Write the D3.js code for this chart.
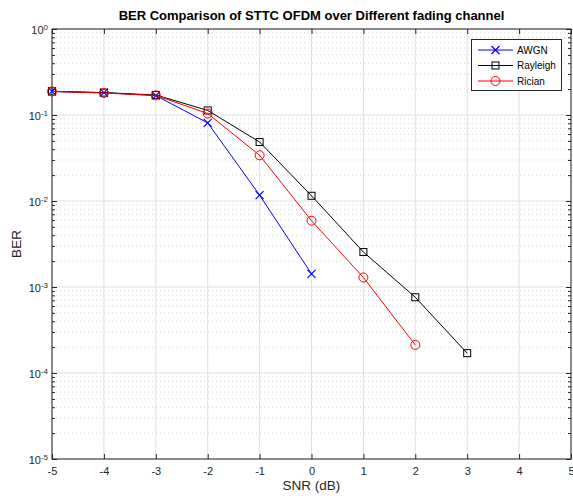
<!DOCTYPE html>
<html>
<head>
<meta charset="utf-8">
<script src="https://cdn.jsdelivr.net/npm/d3@7"></script>
<style>
  body { margin: 0; background: #fff; }
  svg { display: block; font-family: "Liberation Sans", Arial, sans-serif; }
  .tick text { fill: #262626; font-size: 11px; }
</style>
</head>
<body>
<svg id="chart" width="573" height="496"></svg>
<script>
// data
var snr = [-5, -4, -3, -2, -1, 0, 1, 2, 3];
var awgn = [0.188, 0.182, 0.168, 0.081, 0.0117, 0.00142];
var rayleigh = [0.188, 0.182, 0.171, 0.113, 0.0485, 0.0115, 0.00255, 0.00076, 0.00017];
var rician = [0.188, 0.180, 0.169, 0.104, 0.034, 0.0059, 0.00129, 0.000212];
var xTicks = [-5, -4, -3, -2, -1, 0, 1, 2, 3, 4, 5];
var yTicks = [1e-5, 1e-4, 1e-3, 1e-2, 1e-1, 1];

var series = [
  {name: 'AWGN', values: awgn, color: '#0000ff', marker: 'x'},
  {name: 'Rayleigh', values: rayleigh, color: '#000000', marker: 'square'},
  {name: 'Rician', values: rician, color: '#ff0000', marker: 'circle'}
];

var svg = d3.select('#chart');
var pLeft = 52, pRight = 571, pTop = 29, pBottom = 459;

var x = d3.scaleLinear().domain([-5, 5]).range([pLeft, pRight]);
var y = d3.scaleLog().domain([1e-5, 1]).range([pBottom, pTop]);

var axisColor = '#262626';

// minor values between decades
var minor = [];
yTicks.slice(0, -1).forEach(function(d) {
  for (var k = 2; k < 10; k++) minor.push(d * k);
});

var grid = svg.append('g');

grid.selectAll('line.minor')
  .data(minor)
  .enter().append('line')
  .attr('x1', pLeft).attr('x2', pRight)
  .attr('y1', function(d) { return y(d); })
  .attr('y2', function(d) { return y(d); })
  .attr('stroke', '#d4d4d4')
  .attr('stroke-width', 1)
  .attr('stroke-dasharray', '1,3');

grid.selectAll('line.xgrid')
  .data(xTicks)
  .enter().append('line')
  .attr('x1', function(d) { return x(d); })
  .attr('x2', function(d) { return x(d); })
  .attr('y1', pTop).attr('y2', pBottom)
  .attr('stroke', '#dfdfdf');

grid.selectAll('line.ygrid')
  .data(yTicks)
  .enter().append('line')
  .attr('x1', pLeft).attr('x2', pRight)
  .attr('y1', function(d) { return y(d); })
  .attr('y2', function(d) { return y(d); })
  .attr('stroke', '#dfdfdf');

// axes
var xAxis = d3.axisBottom(x).tickValues(xTicks).tickSize(-5).tickPadding(8)
  .tickFormat(function(d) { return String(d); });
var xTop = d3.axisTop(x).tickValues(xTicks).tickSize(-5).tickFormat('');

svg.append('g').attr('transform', 'translate(0,' + pBottom + ')').call(xAxis);
svg.append('g').attr('transform', 'translate(0,' + pTop + ')').call(xTop);

var yAxis = d3.axisLeft(y).tickValues(yTicks).tickSize(-5).tickFormat('');
var yRight = d3.axisRight(y).tickValues(yTicks).tickSize(-5).tickFormat('');
var gy = svg.append('g').attr('transform', 'translate(' + pLeft + ',0)').call(yAxis);
svg.append('g').attr('transform', 'translate(' + pRight + ',0)').call(yRight);

var yMinorL = d3.axisLeft(y).tickValues(minor).tickSize(-3).tickFormat('');
var yMinorR = d3.axisRight(y).tickValues(minor).tickSize(-3).tickFormat('');
svg.append('g').attr('transform', 'translate(' + pLeft + ',0)').call(yMinorL);
svg.append('g').attr('transform', 'translate(' + pRight + ',0)').call(yMinorR);

svg.selectAll('.domain').remove();
svg.selectAll('.tick line').attr('stroke', axisColor);
svg.selectAll('.tick text:empty').remove();

// y labels as 10^n
gy.selectAll('.tick').each(function(d) {
  var t = d3.select(this).append('text')
    .attr('x', -4).attr('dy', '0.45em')
    .attr('text-anchor', 'end')
    .attr('fill', axisColor);
  var e = Math.round(Math.log10(d));
  t.append('tspan').text('10');
  t.append('tspan').attr('dy', '-0.5em').attr('font-size', '8px').text(e);
});

svg.append('rect')
  .attr('x', pLeft).attr('y', pTop)
  .attr('width', pRight - pLeft).attr('height', pBottom - pTop)
  .attr('fill', 'none')
  .attr('stroke', axisColor)
  .attr('stroke-width', 1);

function drawMarker(g, type, color) {
  if (type === 'x') {
    g.append('path').attr('d', 'M-4,-4L4,4M-4,4L4,-4')
      .attr('stroke', color).attr('stroke-width', 1.2).attr('fill', 'none');
  } else if (type === 'square') {
    g.append('rect').attr('x', -3.5).attr('y', -3.5).attr('width', 7).attr('height', 7)
      .attr('stroke', color).attr('fill', 'none');
  } else {
    g.append('circle').attr('r', 4.5).attr('stroke', color).attr('fill', 'none');
  }
}

var line = d3.line()
  .x(function(d, i) { return x(snr[i]); })
  .y(function(d) { return y(d); });

series.forEach(function(s) {
  svg.append('path')
    .datum(s.values)
    .attr('d', line)
    .attr('fill', 'none')
    .attr('stroke', s.color)
    .attr('stroke-width', 1);

  s.values.forEach(function(v, i) {
    var g = svg.append('g').attr('transform', 'translate(' + x(snr[i]) + ',' + y(v) + ')');
    drawMarker(g, s.marker, s.color);
  });
});

// legend
var legend = svg.append('g');
legend.append('rect')
  .attr('x', 471.5).attr('y', 39.5).attr('width', 90).attr('height', 51)
  .attr('fill', '#fff').attr('stroke', axisColor);

series.forEach(function(s, i) {
  var ly = 50 + i * 15.5;
  legend.append('line')
    .attr('x1', 478).attr('x2', 513).attr('y1', ly).attr('y2', ly)
    .attr('stroke', s.color);
  var g = legend.append('g').attr('transform', 'translate(495.5,' + ly + ')');
  drawMarker(g, s.marker, s.color);
  legend.append('text')
    .attr('x', 517).attr('y', ly).attr('dy', '0.35em')
    .attr('font-size', '10px').attr('fill', '#000')
    .text(s.name);
});

// titles
svg.append('text')
  .attr('x', (pLeft + pRight) / 2).attr('y', 20)
  .attr('text-anchor', 'middle')
  .attr('font-size', '13px').attr('font-weight', 'bold').attr('fill', '#000')
  .text('BER Comparison of STTC OFDM over Different fading channel');

svg.append('text')
  .attr('x', (pLeft + pRight) / 2).attr('y', 489.5)
  .attr('text-anchor', 'middle')
  .attr('font-size', '13.5px').attr('fill', axisColor)
  .text('SNR (dB)');

svg.append('text')
  .attr('transform', 'translate(21,' + (pTop + pBottom) / 2 + ') rotate(-90)')
  .attr('text-anchor', 'middle')
  .attr('font-size', '13.5px').attr('fill', axisColor)
  .text('BER');
</script>
</body>
</html>
